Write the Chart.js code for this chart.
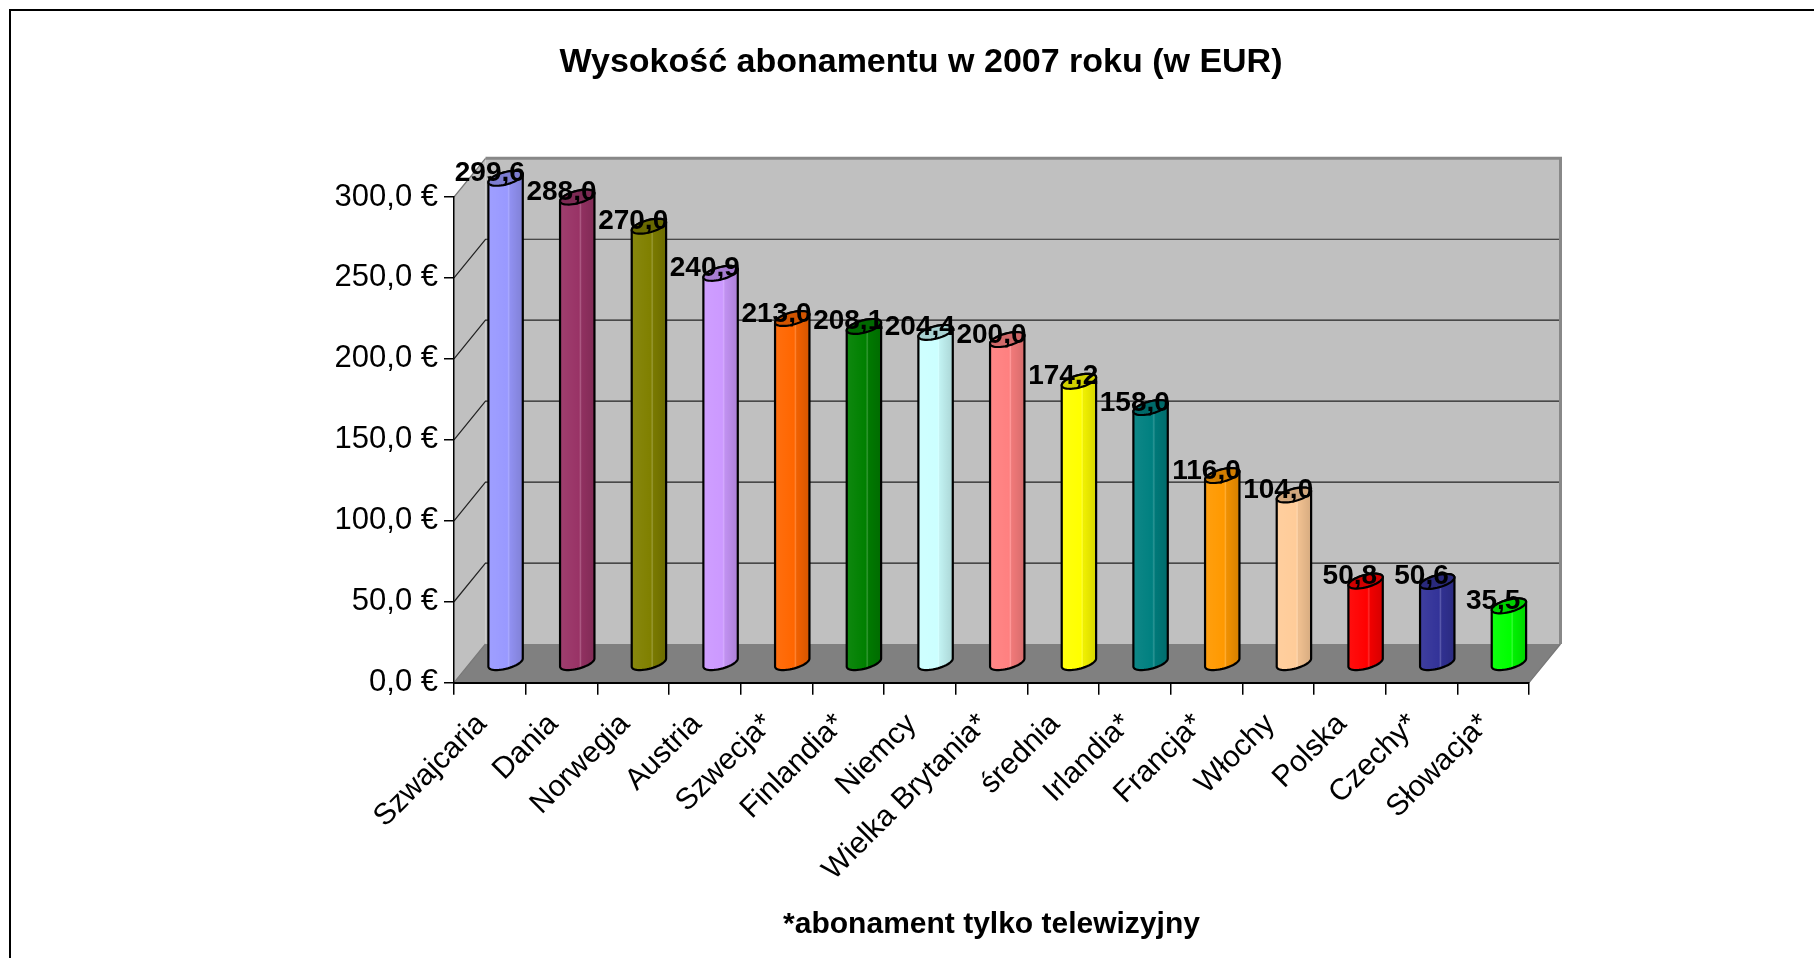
<!DOCTYPE html>
<html lang="pl">
<head>
<meta charset="utf-8">
<title>Wysokość abonamentu w 2007 roku (w EUR)</title>
<script src="https://cdn.jsdelivr.net/npm/chart.js@4.4.1/dist/chart.umd.min.js"></script>
<style>
  html, body { margin: 0; padding: 0; background: #fff; }
  #wrap { position: relative; width: 1814px; height: 958px; }
</style>
</head>
<body>
<div id="wrap"><canvas id="chart"></canvas></div>
<script>
// Dane
const countries = ["Szwajcaria", "Dania", "Norwegia", "Austria", "Szwecja*", "Finlandia*", "Niemcy",
  "Wielka Brytania*", "średnia", "Irlandia*", "Francja*", "Włochy", "Polska", "Czechy*", "Słowacja*"];
const fees = [299.6, 288.0, 270.0, 240.9, 213.0, 208.1, 204.4, 200.0, 174.2, 158.0, 116.0, 104.0, 50.8, 50.6, 35.5];
const barColors = ["#9999FF", "#993366", "#808000", "#CC99FF", "#FF6600", "#008000", "#CCFFFF",
  "#FF8080", "#FFFF00", "#008080", "#FF9900", "#FFCC99", "#FF0000", "#333399", "#00FF00"];
const yMin = 0, yMax = 300, yStep = 50;

const FONT = "'Liberation Sans', Arial, sans-serif";

// Głębia sceny 3D (przesunięcie tylnej ściany) i słupków (połowa głębi)
const DEPTH_X = 31.5, DEPTH_Y = -38.7;
const BAR_DX = DEPTH_X / 2, BAR_DY = DEPTH_Y / 2;

const fmt = v => v.toFixed(1).replace(".", ",");

function shade(hex, k) {
  const n = parseInt(hex.slice(1), 16);
  const r = Math.round(((n >> 16) & 255) * k), g = Math.round(((n >> 8) & 255) * k), b = Math.round((n & 255) * k);
  return `rgb(${r},${g},${b})`;
}

// Elipsa walca: pochylona (prawa strona wyżej)
function ellPt(cx, cy, R, t) {
  const m = 4, b = 6.3;
  return [cx + R * Math.cos(t), cy - m * Math.cos(t) + b * Math.sin(t)];
}

function silhouette(ctx, el) {
  const R = el.width / 2, cx = el.x, yt = el.y, yb = el.base;
  ctx.moveTo(...ellPt(cx, yt, R, Math.PI));
  ctx.lineTo(...ellPt(cx, yb, R, Math.PI));
  for (let i = 1; i <= 24; i++) ctx.lineTo(...ellPt(cx, yb, R, Math.PI - Math.PI * i / 24));
  ctx.lineTo(...ellPt(cx, yt, R, 0));
  for (let i = 1; i <= 24; i++) ctx.lineTo(...ellPt(cx, yt, R, -Math.PI * i / 24));
  ctx.closePath();
}

function topCap(ctx, el) {
  const R = el.width / 2;
  ctx.moveTo(...ellPt(el.x, el.y, R, 0));
  for (let i = 1; i <= 48; i++) ctx.lineTo(...ellPt(el.x, el.y, R, Math.PI * 2 * i / 48));
  ctx.closePath();
}

const scene3d = {
  id: "scene3d",
  beforeDraw(chart) {
    const {ctx, chartArea: a, scales: {y}} = chart;
    const y0 = y.getPixelForValue(yMin), yT = y.getPixelForValue(yMax);
    ctx.save();
    // ramka
    ctx.strokeStyle = "#000";
    ctx.lineWidth = 2;
    ctx.strokeRect(10, 10, chart.width + 20, chart.height + 20);
    // ściana boczna
    ctx.fillStyle = "#C0C0C0";
    ctx.beginPath();
    ctx.moveTo(a.left, yT);
    ctx.lineTo(a.left + DEPTH_X, yT + DEPTH_Y);
    ctx.lineTo(a.left + DEPTH_X, y0 + DEPTH_Y);
    ctx.lineTo(a.left, y0);
    ctx.closePath();
    ctx.fill();
    // tylna ściana
    ctx.fillRect(a.left + DEPTH_X, yT + DEPTH_Y, a.right - a.left, y0 - yT);
    // podłoga
    ctx.fillStyle = "#808080";
    ctx.beginPath();
    ctx.moveTo(a.left, y0);
    ctx.lineTo(a.right, y0);
    ctx.lineTo(a.right + DEPTH_X, y0 + DEPTH_Y);
    ctx.lineTo(a.left + DEPTH_X, y0 + DEPTH_Y);
    ctx.closePath();
    ctx.fill();
    // linie siatki
    ctx.strokeStyle = "#222";
    ctx.lineWidth = 1.2;
    y.ticks.forEach(t => {
      if (t.value === yMin || t.value === yMax) return;
      const py = y.getPixelForValue(t.value);
      ctx.beginPath();
      ctx.moveTo(a.left, py);
      ctx.lineTo(a.left + DEPTH_X, py + DEPTH_Y);
      ctx.lineTo(a.right + DEPTH_X, py + DEPTH_Y);
      ctx.stroke();
    });
    // krawędzie
    ctx.strokeStyle = "#777";
    ctx.lineWidth = 1.2;
    ctx.beginPath();
    ctx.moveTo(a.left, yT);
    ctx.lineTo(a.left + DEPTH_X, yT + DEPTH_Y);
    ctx.moveTo(a.left, y0);
    ctx.lineTo(a.left + DEPTH_X, y0 + DEPTH_Y);
    ctx.moveTo(a.right, y0);
    ctx.lineTo(a.right + DEPTH_X, y0 + DEPTH_Y);
    ctx.stroke();
    ctx.strokeStyle = "#888";
    ctx.lineWidth = 3;
    ctx.beginPath();
    ctx.moveTo(a.left + DEPTH_X, yT + DEPTH_Y);
    ctx.lineTo(a.right + DEPTH_X, yT + DEPTH_Y);
    ctx.lineTo(a.right + DEPTH_X, y0 + DEPTH_Y);
    ctx.stroke();
    ctx.restore();
  },
  beforeDatasetsDraw(chart) {
    const {ctx} = chart;
    const bars = chart.getDatasetMeta(0).data;
    ctx.save();
    ctx.translate(BAR_DX, BAR_DY);
    ctx.beginPath();
    bars.forEach(el => silhouette(ctx, el));
    ctx.clip();
  },
  afterDatasetsDraw(chart) {
    const {ctx} = chart;
    ctx.restore();
    const bars = chart.getDatasetMeta(0).data;
    ctx.save();
    ctx.translate(BAR_DX, BAR_DY);
    bars.forEach((el, i) => {
      const R = el.width / 2;
      ctx.save();
      ctx.beginPath();
      silhouette(ctx, el);
      ctx.fillStyle = barColors[i];
      ctx.fill();
      ctx.clip();
      const g = ctx.createLinearGradient(el.x - R, 0, el.x + R, 0);
      g.addColorStop(0, "rgba(255,255,255,0.06)");
      g.addColorStop(0.55, "rgba(255,255,255,0)");
      g.addColorStop(0.6, "rgba(255,255,255,0.2)");
      g.addColorStop(0.64, "rgba(0,0,0,0.06)");
      g.addColorStop(1, "rgba(0,0,0,0.16)");
      ctx.fillStyle = g;
      ctx.fillRect(el.x - R - 2, el.y - 10, el.width + 4, el.base - el.y + 20);
      ctx.restore();
      ctx.lineWidth = 2.2;
      ctx.strokeStyle = "#000";
      ctx.beginPath();
      silhouette(ctx, el);
      ctx.stroke();
      ctx.beginPath();
      topCap(ctx, el);
      ctx.fillStyle = shade(barColors[i], 0.82);
      ctx.fill();
      ctx.stroke();
    });
    ctx.restore();
    // etykiety wartości
    ctx.save();
    ctx.fillStyle = "#000";
    ctx.font = `bold 28px ${FONT}`;
    ctx.textAlign = "center";
    ctx.textBaseline = "alphabetic";
    bars.forEach((el, i) => {
      ctx.fillText(fmt(fees[i]), el.x, el.y + BAR_DY + 3);
    });
    ctx.restore();
  }
};

new Chart(document.getElementById("chart"), {
  type: "bar",
  data: {
    labels: countries,
    datasets: [{
      data: fees,
      backgroundColor: barColors,
      borderWidth: 0,
      categoryPercentage: 1,
      barPercentage: 0.48,
      clip: false
    }]
  },
  options: {
    responsive: true,
    maintainAspectRatio: false,
    animation: false,
    layout: {padding: {left: 28, right: 0, top: 0, bottom: 0}},
    plugins: {
      legend: {display: false},
      tooltip: {enabled: false},
      title: {
        display: true,
        text: "Wysokość abonamentu w 2007 roku (w EUR)",
        color: "#000",
        font: {family: FONT, size: 34, weight: "bold"},
        padding: {top: 42, bottom: 114.2}
      }
    },
    scales: {
      x: {
        offset: true,
        grid: {offset: true, drawOnChartArea: false, tickLength: 12, color: "#000", lineWidth: 1.5},
        border: {color: "#000", width: 2},
        ticks: {
          autoSkip: false, minRotation: 45, maxRotation: 45, padding: 12, labelOffset: -8,
          color: "#000", font: {family: FONT, size: 30}
        },
        title: {
          display: true,
          text: "*abonament tylko telewizyjny",
          color: "#000",
          font: {family: FONT, size: 30, weight: "bold"},
          padding: {top: 0, bottom: 15}
        },
        afterFit(s) { s.height = 275.3; }
      },
      y: {
        min: yMin, max: yMax,
        grid: {drawOnChartArea: false, tickLength: 10, color: "#000", lineWidth: 1.5},
        border: {color: "#000", width: 1.5},
        ticks: {
          stepSize: yStep, padding: 6, color: "#000",
          font: {family: FONT, size: 31},
          callback: v => fmt(v) + " €"
        },
        afterFit(s) { s.width = 426; }
      },
      y2: {
        type: "linear", position: "right", min: 0, max: 1,
        grid: {display: false}, border: {display: false}, ticks: {display: false},
        afterFit(s) { s.width = 285; }
      }
    }
  },
  plugins: [scene3d]
});
</script>
</body>
</html>
